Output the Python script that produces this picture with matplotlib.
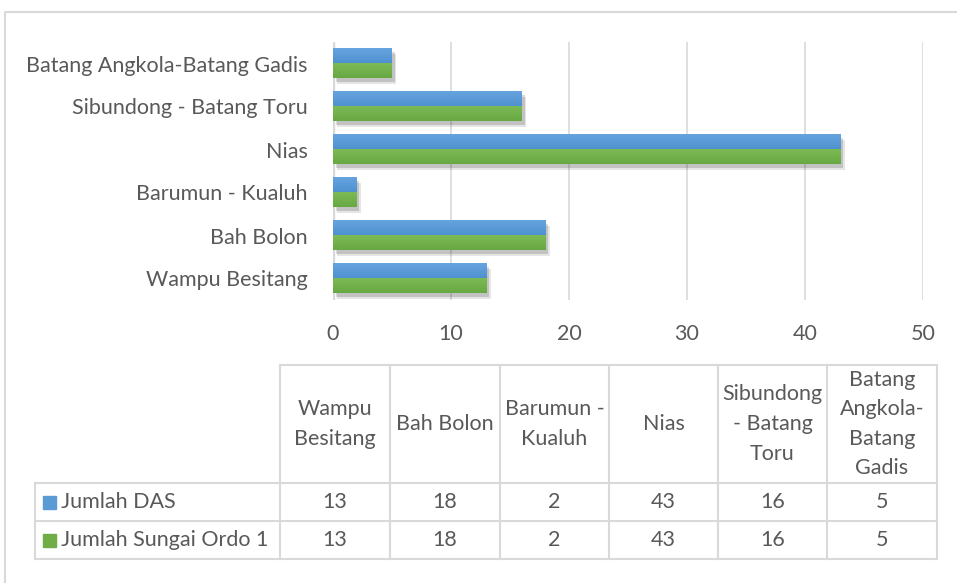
import matplotlib
matplotlib.use("Agg")
import matplotlib.pyplot as plt
import matplotlib.patheffects as pe
import numpy as np

categories = ["Wampu Besitang", "Bah Bolon", "Barumun - Kualuh", "Nias",
              "Sibundong - Batang Toru", "Batang Angkola-Batang Gadis"]
table_headers = ["Wampu\nBesitang", "Bah Bolon", "Barumun -\nKualuh", "Nias",
                 "Sibundong\n- Batang\nToru", "Batang\nAngkola-\nBatang\nGadis"]
series_names = ["Jumlah DAS", "Jumlah Sungai Ordo 1"]
jumlah_das = [13, 18, 2, 43, 16, 5]
jumlah_sungai = [13, 18, 2, 43, 16, 5]
x_ticks = [0, 10, 20, 30, 40, 50]

FONT = "Lato"
TXT = "#595959"
GRID = "#D9D9D9"
BLUE = "#4F91D0"
GREEN = "#68A843"
FS = 15.5

W, H = 957, 583
fig = plt.figure(figsize=(W / 100, H / 100), dpi=100)

# background axes in pixel coordinates for border and table
bg = fig.add_axes([0, 0, 1, 1])
bg.set_xlim(0, W)
bg.set_ylim(H, 0)
bg.axis("off")
bg.plot([5, 5, W], [H, 12, 12], color=GRID, lw=1.5, solid_capstyle="butt")

# main bar axes
L, R, T, B = 333, 923, 42, 300
ax = fig.add_axes([L / W, 1 - B / H, (R - L) / W, (B - T) / H])
ax.set_facecolor("none")
for s in ax.spines.values():
    s.set_visible(False)
ax.set_xticks(x_ticks)
ax.xaxis.grid(True, color=GRID, lw=1.2)
ax.set_axisbelow(True)
ax.axvline(0, color=GRID, lw=2.5, zorder=1)
ax.tick_params(length=0, labelsize=FS, labelcolor=TXT)
ax.tick_params(axis="x", pad=17)
y = np.arange(len(categories))
ax.set_yticks(y)
ax.set_yticklabels(categories)
ax.tick_params(axis="y", pad=18)
for lab in ax.get_xticklabels() + ax.get_yticklabels():
    lab.set_fontfamily(FONT)

h = 0.34
shadow = [pe.SimplePatchShadow(offset=(3, -4), shadow_rgbFace="#000000", alpha=0.10),
          pe.SimplePatchShadow(offset=(2, -2.5), shadow_rgbFace="#000000", alpha=0.15),
          pe.Normal()]
def grad_bars(vals, offs, base, light, with_shadow):
    bars = ax.barh(y + offs, vals, height=h, color=base, zorder=3,
                   path_effects=shadow if with_shadow else None)
    cmap = matplotlib.colors.LinearSegmentedColormap.from_list("g", [light, base])
    for b in bars:
        x0, y0 = b.get_x(), b.get_y()
        w, hh = b.get_width(), b.get_height()
        img = np.linspace(0, 1, 50).reshape(-1, 1)
        ax.imshow(img, cmap=cmap, extent=(x0, x0 + w, y0 + hh, y0), aspect="auto",
                  zorder=4, origin="lower")
grad_bars(jumlah_das, h / 2, BLUE, "#66A4DF", True)
grad_bars(jumlah_sungai, -h / 2, GREEN, "#7CBA55", True)
ax.set_xlim(0, 50)
ax.set_ylim(-0.5, len(categories) - 0.5)

# data table
col_edges = [280, 390, 500, 609, 718, 827, 937]
label_left = 35
row_edges = [365, 483, 521, 559]
lc = GRID
lw = 1.5
bg.plot([280, 937], [365, 365], color=lc, lw=lw)
for xe in col_edges:
    bg.plot([xe, xe], [365, 559], color=lc, lw=lw)
bg.plot([label_left, label_left], [483, 559], color=lc, lw=lw)
for ye in row_edges[1:]:
    bg.plot([label_left, 937], [ye, ye], color=lc, lw=lw)

for i, hd in enumerate(table_headers):
    cx = (col_edges[i] + col_edges[i + 1]) / 2
    bg.text(cx, (365 + 483) / 2, hd, ha="center", va="center", fontsize=FS,
            color=TXT, family=FONT, linespacing=1.6)

rows = [jumlah_das, jumlah_sungai]
colors = ["#5B9BD5", "#70AD47"]
for r, (name, vals, col) in enumerate(zip(series_names, rows, colors)):
    cy = (row_edges[r + 1] + row_edges[r + 2]) / 2
    bg.add_patch(plt.Rectangle((43, cy - 6), 13, 13, color=col))
    bg.text(61, cy, name, ha="left", va="center", fontsize=FS, color=TXT, family=FONT)
    for i, v in enumerate(vals):
        cx = (col_edges[i] + col_edges[i + 1]) / 2
        bg.text(cx, cy, str(v), ha="center", va="center", fontsize=FS, color=TXT, family=FONT)

fig.savefig("out.png", dpi=100)
